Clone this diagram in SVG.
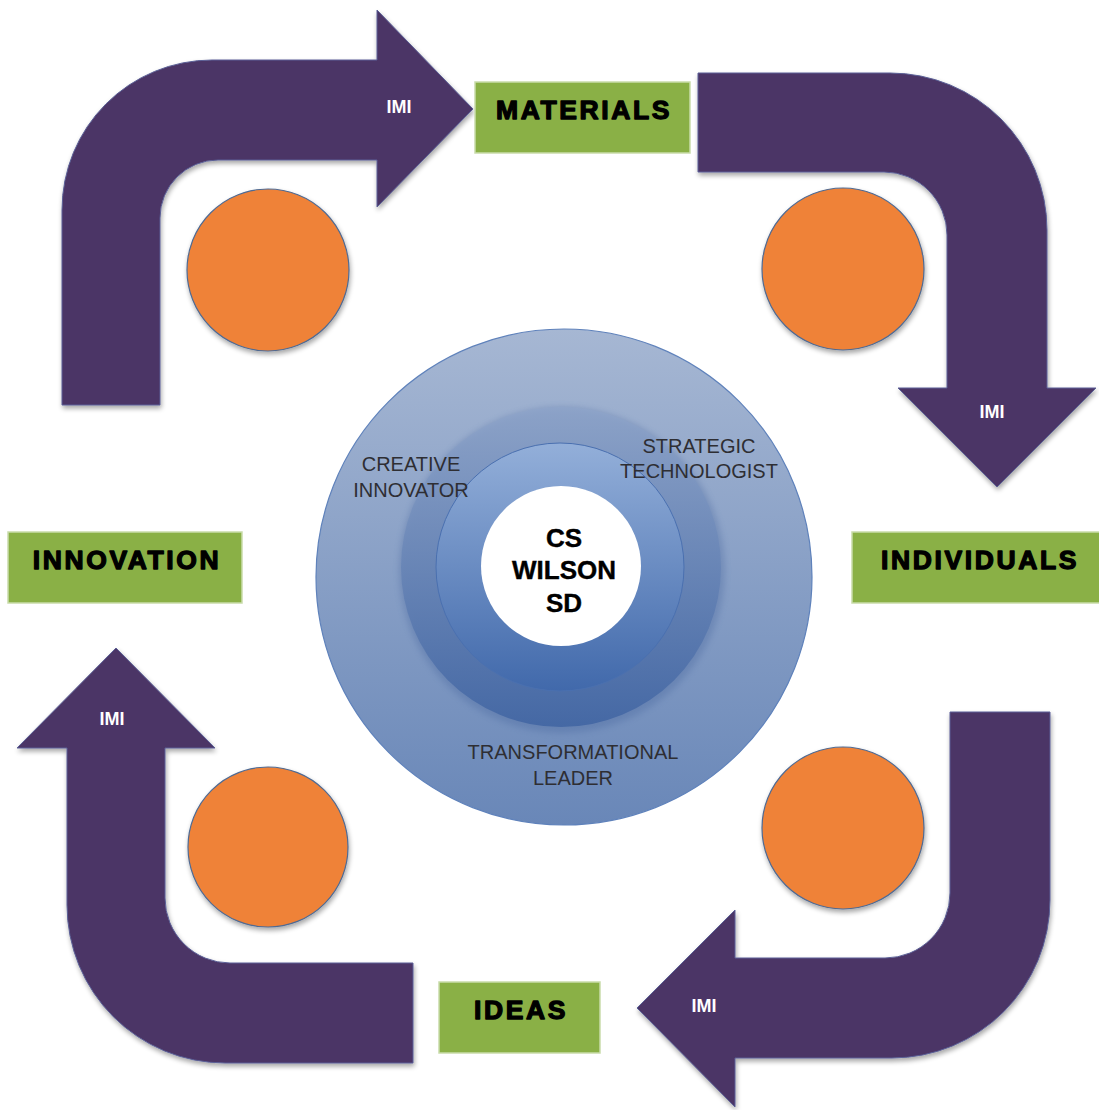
<svg xmlns="http://www.w3.org/2000/svg" width="1099" height="1110" viewBox="0 0 1099 1110">
  <style>
    .arrow { fill: #4b3566; stroke: #5a5f96; stroke-width: 1; filter: url(#shadow); }
    .dot { fill: #ef8237; stroke: #4f6a93; stroke-width: 1.2; filter: url(#shadow); }
    .box { fill: #8ab046; stroke: #c9dcaa; stroke-width: 1.5; }
    .boxText { font-family: "Liberation Sans", Arial, sans-serif; font-weight: bold; font-size: 26.5px; letter-spacing: 2.6px; fill: #000; stroke: #000; stroke-width: 1.3; stroke-linejoin: round; text-anchor: middle; }
    .imi { font-family: "Liberation Sans", Arial, sans-serif; font-weight: bold; font-size: 18px; fill: #fff; text-anchor: middle; }
    .role { font-family: "Liberation Sans", Arial, sans-serif; font-size: 20px; fill: #2e2e33; text-anchor: middle; }
    .core { font-family: "Liberation Sans", Arial, sans-serif; font-weight: bold; font-size: 26px; fill: #000; stroke: #000; stroke-width: 0.4; text-anchor: middle; }
  </style>
  <defs>
    <filter id="shadow" x="-10%" y="-10%" width="130%" height="130%">
      <feGaussianBlur in="SourceAlpha" stdDeviation="2.5"/>
      <feOffset dx="1" dy="3" result="b"/>
      <feComponentTransfer><feFuncA type="linear" slope="0.35"/></feComponentTransfer>
      <feMerge><feMergeNode/><feMergeNode in="SourceGraphic"/></feMerge>
    </filter>
    <filter id="soft" x="-20%" y="-20%" width="140%" height="140%">
      <feGaussianBlur stdDeviation="3"/>
    </filter>
    <linearGradient id="gOuter" x1="0" y1="0" x2="0" y2="1">
      <stop offset="0" stop-color="#a6b7d3"/>
      <stop offset="1" stop-color="#6987b8"/>
    </linearGradient>
    <linearGradient id="gBand" x1="0" y1="0" x2="0" y2="1">
      <stop offset="0" stop-color="#8fa5ca"/>
      <stop offset="1" stop-color="#3d62a1"/>
    </linearGradient>
    <linearGradient id="gInner" x1="0" y1="0" x2="0" y2="1">
      <stop offset="0" stop-color="#93afd9"/>
      <stop offset="1" stop-color="#4169ab"/>
    </linearGradient>
  </defs>

  <!-- curved arrows joining the four stages -->
  <g id="connectors">
    <path class="arrow" d="M62,405 L62,210 A150,150 0 0 1 212,60 L377,60 L377,10 L473,109 L377,207 L377,160 L218,160 A58,58 0 0 0 160,218 L160,405 Z"/>
    <path class="arrow" d="M698,73 L890,73 A157,157 0 0 1 1047,230 L1047,388 L1096,388 L997,487 L898,388 L947,388 L947,235 A63,63 0 0 0 884,172 L698,172 Z"/>
    <path class="arrow" d="M950,712 L1050,712 L1050,900 A158,158 0 0 1 892,1058 L735,1058 L735,1107 L637,1008 L735,910 L735,958 L885,958 A65,65 0 0 0 950,893 Z"/>
    <path class="arrow" d="M413,963 L413,1063 L225,1063 A158,158 0 0 1 67,905 L67,748 L17,748 L116,648 L215,748 L165,748 L165,898 A65,65 0 0 0 230,963 Z"/>
    <text class="imi" x="399" y="113">IMI</text>
    <text class="imi" x="992" y="418">IMI</text>
    <text class="imi" x="704" y="1012">IMI</text>
    <text class="imi" x="112" y="725">IMI</text>
  </g>

  <!-- orange markers -->
  <g id="dot-top-left"><circle class="dot" cx="268" cy="270" r="81"/></g>
  <g id="dot-top-right"><circle class="dot" cx="843" cy="269" r="81"/></g>
  <g id="dot-bottom-right"><circle class="dot" cx="843" cy="828" r="81"/></g>
  <g id="dot-bottom-left"><circle class="dot" cx="268" cy="847" r="80"/></g>

  <!-- stage labels -->
  <g id="materials">
    <rect class="box" x="475" y="82" width="215" height="71"/>
    <text class="boxText" x="584" y="119">MATERIALS</text>
  </g>
  <g id="individuals">
    <rect class="box" x="852" y="532" width="250" height="71"/>
    <text class="boxText" x="980" y="569">INDIVIDUALS</text>
  </g>
  <g id="ideas">
    <rect class="box" x="439" y="982" width="161" height="71"/>
    <text class="boxText" x="521" y="1019">IDEAS</text>
  </g>
  <g id="innovation">
    <rect class="box" x="8" y="532" width="234" height="71"/>
    <text class="boxText" x="127" y="569">INNOVATION</text>
  </g>

  <!-- central target -->
  <g id="target">
    <circle cx="564" cy="577" r="248" fill="url(#gOuter)" stroke="#5f82bb" stroke-width="1.2"/>
    <circle cx="562" cy="570" r="163" fill="#3f5f98" opacity="0.3" filter="url(#soft)"/>
    <circle cx="561" cy="567" r="160" fill="url(#gBand)" opacity="0.8"/>
    <circle cx="560" cy="567" r="124" fill="url(#gInner)" stroke="#4a70b0" stroke-width="1"/>
    <circle cx="561" cy="566" r="80" fill="#ffffff"/>
    <text class="role" x="411" y="471">CREATIVE</text>
    <text class="role" x="411" y="497">INNOVATOR</text>
    <text class="role" x="699" y="453">STRATEGIC</text>
    <text class="role" x="699" y="478">TECHNOLOGIST</text>
    <text class="role" x="573" y="759">TRANSFORMATIONAL</text>
    <text class="role" x="573" y="785">LEADER</text>
    <text class="core" x="564" y="547">CS</text>
    <text class="core" x="564" y="579">WILSON</text>
    <text class="core" x="564" y="612">SD</text>
  </g>
</svg>
